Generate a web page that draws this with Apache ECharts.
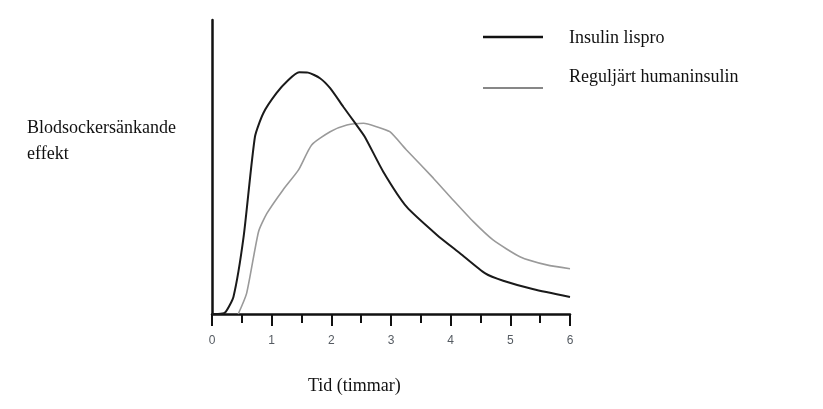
<!DOCTYPE html>
<html>
<head>
<meta charset="utf-8">
<script src="https://cdn.jsdelivr.net/npm/echarts@6/dist/echarts.min.js"></script>
<style>
  html, body { margin: 0; padding: 0; background: #fff; }
  #main { width: 823px; height: 409px; }
</style>
</head>
<body>
<div id="main"></div>
<script>
// tid i timmar, effekt i godtyckliga enheter (0-100)
const lispro_time = [0, 0.1, 0.22, 0.36, 0.53, 0.72, 0.86, 1.08, 1.28, 1.46, 1.61, 1.81, 1.98, 2.2, 2.4, 2.56, 2.87, 3.26, 3.77, 4.16, 4.58, 4.88, 5.39, 6.0];
const lispro_value = [0, 0, 0.5, 5.9, 26.3, 60.3, 68.3, 75.1, 79.6, 82.2, 82.1, 80.2, 76.8, 70.5, 64.9, 60.3, 48.4, 36.5, 26.9, 20.6, 13.8, 11.3, 8.4, 5.8];
const regular_time = [0.44, 0.58, 0.78, 0.92, 1.19, 1.45, 1.67, 1.98, 2.26, 2.54, 2.76, 2.98, 3.26, 3.71, 4.04, 4.38, 4.71, 5.16, 5.61, 6.0];
const regular_value = [0, 7.0, 28.0, 34.2, 42.2, 49.0, 57.5, 62.0, 64.3, 64.9, 63.7, 62.0, 55.8, 46.2, 38.8, 31.4, 25.2, 19.5, 16.7, 15.4];
const series_names = ['Insulin lispro', 'Reguljärt humaninsulin'];

const zip = (xs, ys) => xs.map((x, i) => [x, ys[i]]);

const serif = '"Liberation Serif", "DejaVu Serif", serif';
const label = (text, x, y) => ({
    type: 'text', x: x, y: y,
    style: { text: text, font: '18px ' + serif, fill: '#111', verticalAlign: 'middle' }
});

const option = {
    animation: false,
    grid: { left: 212, right: 253, top: 20, bottom: 95 },
    xAxis: {
        type: 'value',
        min: 0,
        max: 6,
        interval: 1,
        axisLine: { onZero: false, lineStyle: { color: '#111', width: 2.5 } },
        axisTick: { length: 12, lineStyle: { color: '#111', width: 2 } },
        minorTick: { show: true, splitNumber: 2, length: 9, lineStyle: { color: '#111', width: 2 } },
        axisLabel: { color: '#555b62', fontFamily: 'Arial, "Liberation Sans", sans-serif', fontSize: 12, margin: 21 },
        splitLine: { show: false }
    },
    yAxis: {
        type: 'value',
        min: 0,
        max: 100,
        axisLine: { show: true, lineStyle: { color: '#111', width: 2.5 } },
        axisTick: { show: false },
        axisLabel: { show: false },
        splitLine: { show: false }
    },
    series: [
        {
            name: series_names[1],
            type: 'line',
            smooth: 0.2,
            symbol: 'none',
            lineStyle: { color: '#9a9a9a', width: 1.6 },
            data: zip(regular_time, regular_value)
        },
        {
            name: series_names[0],
            type: 'line',
            smooth: 0.2,
            symbol: 'none',
            lineStyle: { color: '#1a1a1a', width: 2 },
            data: zip(lispro_time, lispro_value)
        }
    ],
    graphic: [
        // förklaring
        { type: 'line', shape: { x1: 483, y1: 37, x2: 543, y2: 37 }, style: { stroke: '#111', lineWidth: 2.5 } },
        label(series_names[0], 569, 38),
        { type: 'line', shape: { x1: 483, y1: 88, x2: 543, y2: 88 }, style: { stroke: '#111', lineWidth: 1.2 } },
        label(series_names[1], 569, 77),
        // axeltitlar
        label('Blodsockersänkande', 27, 128),
        label('effekt', 27, 154),
        label('Tid (timmar)', 308, 386)
    ]
};

const chart = echarts.init(document.getElementById('main'));
chart.setOption(option);
</script>
</body>
</html>
